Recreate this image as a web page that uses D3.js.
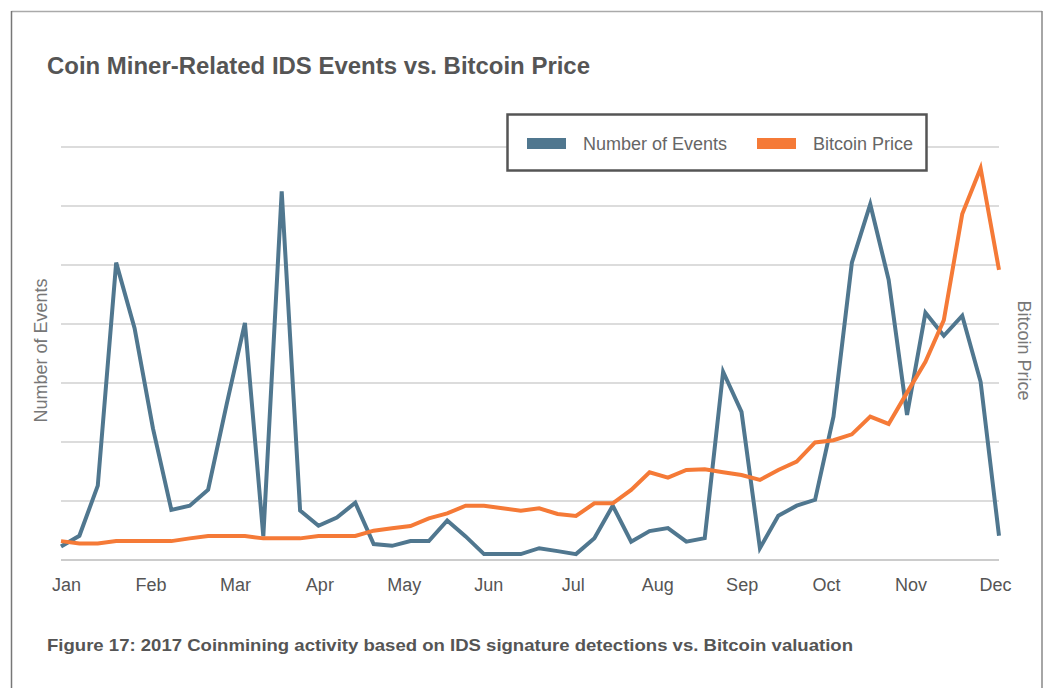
<!DOCTYPE html>
<html>
<head>
<meta charset="utf-8">
<script src="https://cdn.jsdelivr.net/npm/d3@7"></script>
<style>
  body { margin: 0; background: #fff; }
  svg { display: block; font-family: "Liberation Sans", Arial, sans-serif; }
</style>
</head>
<body>
<div id="chart"></div>
<script>
const width = 1047,
  height = 688,
  plot = { left: 61, right: 999, top: 147, bottom: 560 };

const months = ['Jan', 'Feb', 'Mar', 'Apr', 'May', 'Jun', 'Jul', 'Aug', 'Sep', 'Oct', 'Nov', 'Dec'];

// weekly coin-miner IDS events (relative units)
const events = [23, 41, 126, 504, 393, 223, 85, 92, 119, 263, 402, 40, 625, 84, 58, 72, 97, 27,
  24, 32, 32, 67, 40, 10, 10, 10, 20, 15, 10, 37, 92, 31, 49, 54, 31, 37, 319, 251, 20, 75,
  92, 102, 243, 504, 603, 475, 246, 419, 380, 414, 302, 41];

// weekly bitcoin price, USD
const bitcoin = [960, 840, 840, 960, 960, 960, 960, 1100, 1220, 1220, 1220, 1100, 1100, 1100,
  1220, 1220, 1220, 1490, 1610, 1730, 2120, 2370, 2760, 2760, 2630, 2510, 2630, 2340, 2240,
  2880, 2880, 3560, 4460, 4190, 4580, 4610, 4460, 4320, 4070, 4580, 5000, 5980, 6090, 6390,
  7290, 6920, 8510, 10080, 12200, 17590, 19920, 14750];

const seriesNames = ['Number of Events', 'Bitcoin Price'];
const colors = ['#50778f', '#f57a37'];

const svg = d3.select('#chart').append('svg')
  .attr('width', width)
  .attr('height', height);

// frame
svg.append('line').attr('x1', 11.5).attr('x2', 1042).attr('y1', 11.5).attr('y2', 11.5)
  .attr('stroke', '#aaa').attr('stroke-width', 1.5);
svg.append('line').attr('x1', 11.5).attr('x2', 11.5).attr('y1', 11).attr('y2', height)
  .attr('stroke', '#777').attr('stroke-width', 1.5);
svg.append('line').attr('x1', 1042).attr('x2', 1042).attr('y1', 11).attr('y2', height)
  .attr('stroke', '#888').attr('stroke-width', 1.5);

svg.append('text')
  .attr('x', 47).attr('y', 74)
  .attr('fill', '#555')
  .attr('font-size', 23)
  .attr('font-weight', 'bold')
  .attr('textLength', 543)
  .attr('lengthAdjust', 'spacingAndGlyphs')
  .text('Coin Miner-Related IDS Events vs. Bitcoin Price');

const x = d3.scaleLinear()
  .domain([0, events.length - 1])
  .range([plot.left, plot.right]);

const xMonth = d3.scalePoint()
  .domain(months)
  .range([66, 995]);

const yLeft = d3.scaleLinear()
  .domain([0, 700])
  .range([plot.bottom, plot.top]);

const yRight = d3.scaleLinear()
  .domain([0, 21000])
  .range([plot.bottom, plot.top]);

// gridlines
svg.append('g')
  .attr('class', 'grid')
  .selectAll('line')
  .data(yLeft.ticks(7))
  .enter()
  .append('line')
  .attr('x1', plot.left)
  .attr('x2', plot.right)
  .attr('y1', d => yLeft(d))
  .attr('y2', d => yLeft(d))
  .attr('stroke', d => d === 0 ? '#bbb' : '#d0d0d0')
  .attr('stroke-width', 1.5);

// month axis
const xAxis = svg.append('g')
  .attr('transform', `translate(0,${plot.bottom})`)
  .call(d3.axisBottom(xMonth).tickSize(0).tickPadding(18));
xAxis.select('.domain').remove();
xAxis.selectAll('text')
  .attr('font-size', 18)
  .attr('font-family', '"Liberation Sans", Arial, sans-serif')
  .attr('fill', '#555');

// axis titles
svg.append('text')
  .attr('transform', `translate(47,${(plot.top + plot.bottom) / 2 - 3}) rotate(-90)`)
  .attr('text-anchor', 'middle')
  .attr('fill', '#777')
  .attr('font-size', 18)
  .text('Number of Events');

svg.append('text')
  .attr('transform', `translate(1018,${(plot.top + plot.bottom) / 2 - 3}) rotate(90)`)
  .attr('text-anchor', 'middle')
  .attr('fill', '#777')
  .attr('font-size', 18)
  .text('Bitcoin Price');

// lines
const eventLine = d3.line()
  .x((d, i) => x(i))
  .y(d => yLeft(d));

const priceLine = d3.line()
  .x((d, i) => x(i))
  .y(d => yRight(d));

svg.append('path')
  .datum(events)
  .attr('fill', 'none')
  .attr('stroke', colors[0])
  .attr('stroke-width', 4)
  .attr('stroke-linejoin', 'miter')
  .attr('d', eventLine);

svg.append('path')
  .datum(bitcoin)
  .attr('fill', 'none')
  .attr('stroke', colors[1])
  .attr('stroke-width', 4)
  .attr('stroke-linejoin', 'miter')
  .attr('d', priceLine);

// legend
const legend = svg.append('g').attr('class', 'legend');
legend.append('rect')
  .attr('x', 507.5).attr('y', 114.5)
  .attr('width', 419).attr('height', 56)
  .attr('fill', '#fff')
  .attr('stroke', '#555')
  .attr('stroke-width', 2.5);

const legendX = [527, 757];
const items = legend.selectAll('g.item')
  .data(seriesNames)
  .enter()
  .append('g')
  .attr('class', 'item')
  .attr('transform', (d, i) => `translate(${legendX[i]},138)`);
items.append('rect')
  .attr('width', 39).attr('height', 11)
  .attr('fill', (d, i) => colors[i]);
items.append('text')
  .attr('x', 56).attr('y', 12)
  .attr('fill', '#666')
  .attr('font-size', 18)
  .text(d => d);

svg.append('text')
  .attr('x', 47).attr('y', 651)
  .attr('fill', '#555')
  .attr('font-size', 17)
  .attr('font-weight', 'bold')
  .attr('textLength', 806)
  .attr('lengthAdjust', 'spacingAndGlyphs')
  .text('Figure 17: 2017 Coinmining activity based on IDS signature detections vs. Bitcoin valuation');
</script>
</body>
</html>
